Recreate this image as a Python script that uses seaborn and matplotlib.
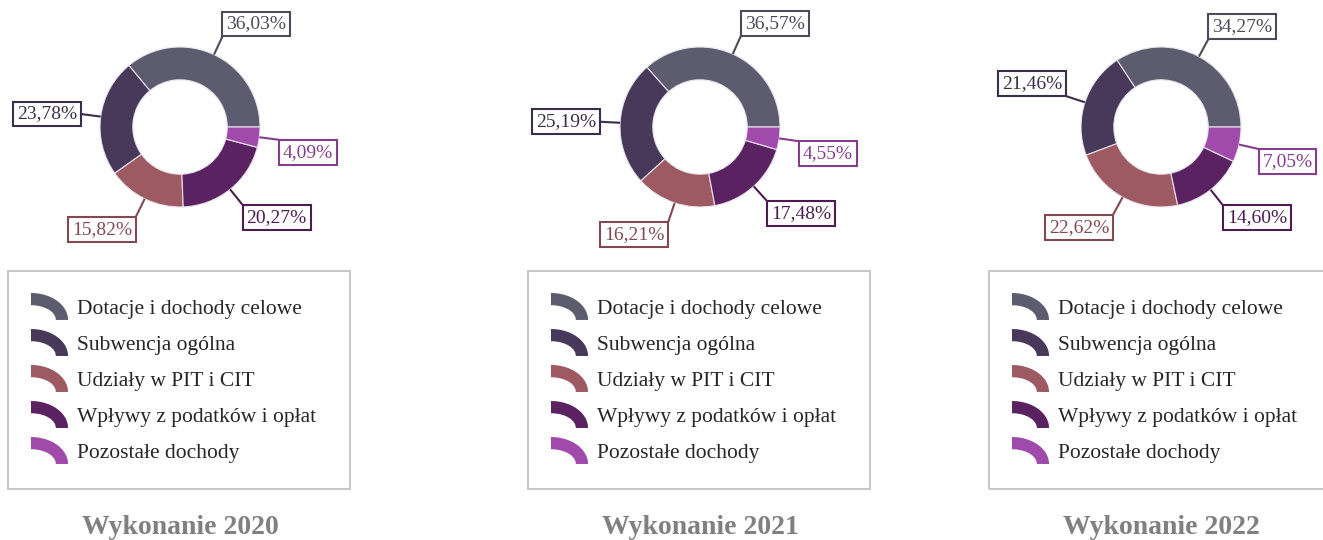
import matplotlib.pyplot as plt
import matplotlib.colors as mcolors
import numpy as np
import seaborn as sns
from matplotlib.patches import Rectangle, PathPatch
from matplotlib.path import Path
from matplotlib.legend_handler import HandlerPatch

# data
categories = ["Dotacje i dochody celowe", "Subwencja ogólna", "Udziały w PIT i CIT",
              "Wpływy z podatków i opłat", "Pozostałe dochody"]
years = ["2020", "2021", "2022"]
shares_2020 = [36.03, 23.78, 15.82, 20.27, 4.09]
shares_2021 = [36.57, 25.19, 16.21, 17.48, 4.55]
shares_2022 = [34.27, 21.46, 22.62, 14.60, 7.05]
hex_colors = ["#5d5b6e", "#48385a", "#9d5a63", "#5b2261", "#a04bab"]

sns.set_style("white")
plt.rcParams['font.family'] = ['Liberation Serif', 'DejaVu Serif']
palette = sns.color_palette(hex_colors)

W, H = 1323, 540
R = 80                      # donut radius in pixels
centers_x = [180, 700, 1161]
center_y = 127
LABEL_FS = 14
LABEL_PAD = 0.2


def darker(c, f=0.82):
    r, g, b = mcolors.to_rgb(c)
    return (r * f, g * f, b * f)


def ring_icon(legend, orig_handle, xdescent, ydescent, width, height, fontsize):
    """quarter of a ring, used as legend marker"""
    x0, y0 = -xdescent, -ydescent
    th = 8.8
    t = np.linspace(np.pi / 2, 0, 40)
    outer = np.column_stack([x0 + width * np.cos(t), y0 + height * np.sin(t)])
    inner = np.column_stack([x0 + (width - th) * np.cos(t[::-1]),
                             y0 + (height - th) * np.sin(t[::-1])])
    verts = np.vstack([outer, inner, outer[:1]])
    codes = [Path.MOVETO] + [Path.LINETO] * (len(verts) - 2) + [Path.CLOSEPOLY]
    return PathPatch(Path(verts, codes))


fig = plt.figure(figsize=(W / 100, H / 100), dpi=100)

a, b = 2.3, 1.55
for cx, year, vals in zip(centers_x, years, [shares_2020, shares_2021, shares_2022]):
    ax = fig.add_axes([(cx - a * R) / W, 1 - (center_y + b * R) / H, 2 * a * R / W, 2 * b * R / H])
    wedges, _ = ax.pie(vals, colors=palette, startangle=0, counterclock=True, radius=1,
                       wedgeprops=dict(width=0.41, edgecolor='#e8e4ec', linewidth=0.8))
    ax.set_xlim(-a, a)
    ax.set_ylim(-b, b)
    ax.axis('off')

    for w, v, col in zip(wedges, vals, palette):
        ang = np.deg2rad((w.theta1 + w.theta2) / 2)
        c, s = np.cos(ang), np.sin(ang)
        ec = darker(col)
        ax.plot([c, 1.25 * c], [s, 1.25 * s], color=ec, lw=1.5, solid_capstyle='butt')
        ha = 'left' if c > 0 else 'right'
        if s > 0.25:
            va = 'bottom'
        elif s < 0:
            va = 'top'
        else:
            va = 'center'
        pad = LABEL_PAD * LABEL_FS
        dx = pad if ha == 'left' else -pad
        dy = {'bottom': pad, 'top': -pad, 'center': 0}[va]
        ax.annotate(f"{v:.2f}".replace('.', ',') + '%', xy=(1.25 * c, 1.25 * s),
                    xytext=(dx, dy), textcoords='offset points', ha=ha, va=va,
                    fontsize=LABEL_FS, color=ec, annotation_clip=False,
                    bbox=dict(boxstyle=f'square,pad={LABEL_PAD}', fc='white', ec=ec, lw=1.5))

    # legend frame
    left = cx - 172
    fig.patches.append(Rectangle((left / W, 1 - 489 / H), 342 / W, 218 / H,
                                 transform=fig.transFigure, fill=False,
                                 ec='#c8c8c8', lw=1.5))
    handles = [Rectangle((0, 0), 1, 1, fc=col, ec='none', lw=0) for col in palette]
    fig.legend(handles, categories, loc='upper left',
               bbox_to_anchor=((left + 23) / W, 1 - 293 / H),
               frameon=False, fontsize=15.5, borderpad=0, borderaxespad=0,
               handlelength=1.72, handleheight=1.55, handletextpad=0.42,
               labelspacing=0.42, labelcolor='#262626',
               handler_map={Rectangle: HandlerPatch(patch_func=ring_icon)})

    fig.text(cx / W, 1 - 527 / H, f"Wykonanie {year}", ha='center', va='center',
             fontsize=20, fontweight='bold', color='#808080')

fig.savefig("out.png", dpi=100)
